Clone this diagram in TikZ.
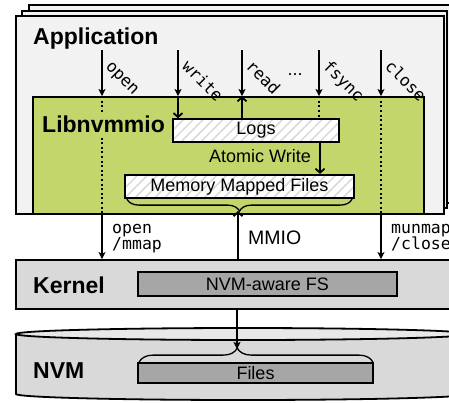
\documentclass[tikz,border=0pt]{standalone}
\usepackage{fontspec}
\setmainfont{Liberation Sans}
\newfontfamily\codefont{DejaVu Sans Mono}
\usetikzlibrary{arrows.meta,patterns.meta,decorations.pathreplacing}
\definecolor{paper}{RGB}{242,242,242}
\definecolor{libgreen}{RGB}{195,214,108}
\definecolor{kgray}{RGB}{217,217,217}
\definecolor{fsgray}{RGB}{166,166,166}
\definecolor{topgray}{RGB}{232,232,232}

\begin{document}
\begin{tikzpicture}[x=1pt,y=-1pt,
  frame/.style={draw=black, line width=1.8pt, fill=paper},
  layerbox/.style={draw=black, line width=1.8pt, inner sep=0pt},
  hatchbox/.style={draw=black, line width=2.2pt, inner sep=0pt,
    preaction={fill=white},
    pattern={Lines[angle=45,distance=7pt,line width=1.5pt]}, pattern color=black!15,
    font=\fontsize{18}{21}\selectfont},
  title/.style={font=\fontsize{23}{26}\selectfont\bfseries, inner sep=0pt, anchor=base west},
  label/.style={font=\fontsize{18}{21}\selectfont, inner sep=0pt},
  call/.style={font=\codefont\fontsize{16.5}{16}\selectfont, inner sep=0pt, rotate=-45, anchor=base west},
  sys/.style={font=\codefont\fontsize{16.5}{16}\selectfont, inner sep=0pt, anchor=base west},
  flow/.style={line width=1.8pt, -{Stealth[length=7pt,width=7pt,inset=1.5pt]}},
  chev/.style={line width=1.8pt, -{Straight Barb[length=4pt,width=9pt,line width=1.8pt]}},
  pass/.style={line width=1.8pt, dash pattern=on 2pt off 2.6pt},
  bracket/.style={line width=1.3pt, decorate},
  ]
\useasboundingbox (0,0) rectangle (449,402);
\clip (0,0) rectangle (449,402);

% stacked application windows
\draw[frame] (29,5) rectangle (450,203);
\draw[frame] (22,11) rectangle (447,208);
\draw[frame] (16,16) rectangle (444,214);

% library layer
\node[layerbox, fill=libgreen, minimum width=391pt, minimum height=117pt] (lib) at (228.5,155.5) {};
\node[hatchbox, minimum width=166pt, minimum height=23pt] (logs) at (256,130.5) {Logs};
\node[hatchbox, minimum width=229pt, minimum height=23pt] (mmf) at (239.5,186.5) {Memory Mapped Files};

% kernel layer
\node[layerbox, fill=kgray, minimum width=454pt, minimum height=49pt] (kernel) at (243,284.5) {};
\node[layerbox, fill=fsgray, minimum width=259pt, minimum height=24pt,
      font=\fontsize{18}{21}\selectfont] (fs) at (267.5,284) {NVM-aware FS};

% NVM cylinder
\fill[kgray] (16,334) rectangle (470,394);
\draw[line width=1.8pt, fill=kgray] (16,334) -- (16,394)
  arc[start angle=180, end angle=360, x radius=227pt, y radius=6pt] -- (470,334);
\draw[line width=1.8pt, fill=topgray] (243,334) ellipse [x radius=227pt, y radius=6pt];
\node[layerbox, fill=fsgray, minimum width=235pt, minimum height=20pt,
      font=\fontsize{18}{21}\selectfont] (files) at (255.5,373) {Files};

% starting points of the calls
\coordinate (topopen) at (102,50);
\coordinate (topwrite) at (178,50);
\coordinate (topread) at (242,50);
\coordinate (topfsync) at (319,50);
\coordinate (topclose) at (381,50);
\coordinate (awx) at (320,0);
\coordinate (mmftip) at (238,211);
\coordinate (nvmtip) at (237,349);

% calls from the application
\foreach \c in {topopen,topwrite,topread,topfsync,topclose}
  \draw[flow] (\c) -- (\c |- lib.north);

% paths through the library
\draw[pass] (topopen |- lib.north) -- (topopen |- lib.south);
\draw[pass] (topclose |- lib.north) -- (topclose |- lib.south);
\draw[pass] (topfsync |- lib.north) -- (topfsync |- logs.north);
\draw[chev] (topwrite |- lib.north) -- (topwrite |- logs.north);
\draw[chev] (topread |- logs.north) -- (topread |- lib.north);
\draw[chev] (awx |- logs.south) -- (awx |- mmf.north);

% braces
\draw[bracket, decoration={brace, mirror, amplitude=12pt}]
  ([xshift=3pt]mmf.south west) -- ([xshift=-3pt]mmf.south east);
\draw[bracket, decoration={brace, amplitude=14pt, aspect=0.42}]
  ([xshift=2pt]files.north west) -- ([xshift=-1pt]files.north east);

% paths to the kernel and memory
\draw[flow] (topopen |- lib.south) -- (topopen |- kernel.north);
\draw[flow] (topclose |- lib.south) -- (topclose |- kernel.north);
\draw[chev] (mmftip |- kernel.north) -- (mmftip);
\draw[flow] (nvmtip |- kernel.south) -- (nvmtip);

% layer titles
\node[title] (apptext) at (33,44) {Application};
\node[title, fill=libgreen, inner xsep=2pt, inner ysep=3pt] (libtext) at (40,132) {Libnvmmio};
\node[title] (kerneltext) at (33,293) {Kernel};
\node[title] (nvmtext) at (33,378) {NVM};

% labels
\node[label] (atomic) at (260,156.5) {Atomic Write};
\node[label, anchor=base west, font=\fontsize{19.5}{22}\selectfont] (mmio) at (248,244) {MMIO};
\node[label, anchor=base] (dots) at (295,75) {...};

\node[call] (lopen) at (105,67) {open};
\node[call] (lwrite) at (181,67) {write};
\node[call] (lread) at (245,67) {read};
\node[call] (lfsync) at (322,67) {fsync};
\node[call] (lclose) at (384,67) {close};

\node[sys] (lopen1) at (112,233) {open};
\node[sys] (lopen2) at (112,249) {/mmap};
\node[sys] (lclose1) at (391,233) {munmap};
\node[sys] (lclose2) at (391,249) {/close};
\end{tikzpicture}
\end{document}
